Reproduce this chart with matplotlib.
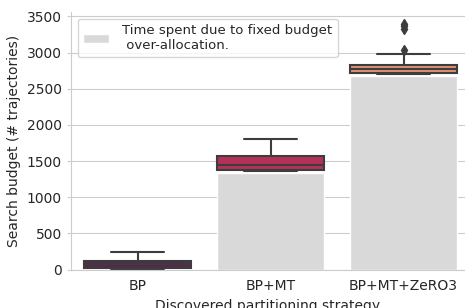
import matplotlib
matplotlib.use("Agg")
import matplotlib.pyplot as plt
import seaborn as sns

# budget spent per discovered strategy
categories = ["BP", "BP+MT", "BP+MT+ZeRO3"]
overalloc = [0, 1335, 2670]      # grey bars: budget lost to fixed over-allocation
whislo = [0, 1355, 2700]
q1 = [25, 1376, 2721]
med = [70, 1445, 2766]
q3 = [124, 1569, 2831]
whishi = [246, 1811, 2985]
fliers = [[], [], [3030, 3320, 3360, 3400]]

sns.set_style("whitegrid")
palette = sns.color_palette("rocket", 3)
palette = [sns.desaturate(c, 0.75) for c in palette]
linecol = "#3d3d3d"

fig = plt.figure(figsize=(4.65, 3.08), dpi=100)
ax = fig.add_axes([0.1527, 0.125, 0.8473, 0.836])

pos = list(range(len(categories)))
ax.bar(pos, overalloc, width=0.8, color="#d9d9d9", zorder=1,
       label="Time spent due to fixed budget\n over-allocation.")

stats = []
for i in range(len(categories)):
    stats.append(dict(med=med[i], q1=q1[i], q3=q3[i], whislo=whislo[i],
                      whishi=whishi[i], fliers=fliers[i]))

bp = ax.bxp(stats, positions=pos, widths=0.8, patch_artist=True, showfliers=True,
            boxprops=dict(edgecolor=linecol, linewidth=1.5),
            medianprops=dict(color=linecol, linewidth=1.5),
            whiskerprops=dict(color=linecol, linewidth=1.5),
            capprops=dict(color=linecol, linewidth=1.5),
            flierprops=dict(marker="d", markerfacecolor=linecol, markeredgecolor=linecol,
                            markersize=5),
            capwidths=0.4, manage_ticks=False)
for patch, c in zip(bp["boxes"], palette):
    patch.set_facecolor(c)
    patch.set_zorder(2)

ax.set_xticks(pos)
ax.set_xticklabels(categories, fontsize=10)
ax.set_xlim(-0.5, 2.462)
ax.set_ylim(0, 3560)
ax.set_yticks(range(0, 3501, 500))
ax.tick_params(axis="y", labelsize=10, left=True, length=3, color="#cccccc")
ax.grid(axis="x", visible=False)
ax.set_xlabel("Discovered partitioning strategy", fontsize=10)
ax.set_ylabel("Search budget (# trajectories)", fontsize=10)
sns.despine(ax=ax)

ax.legend(loc="upper left", fontsize=9.5, handletextpad=1.0)

fig.savefig("out.png", dpi=100)
